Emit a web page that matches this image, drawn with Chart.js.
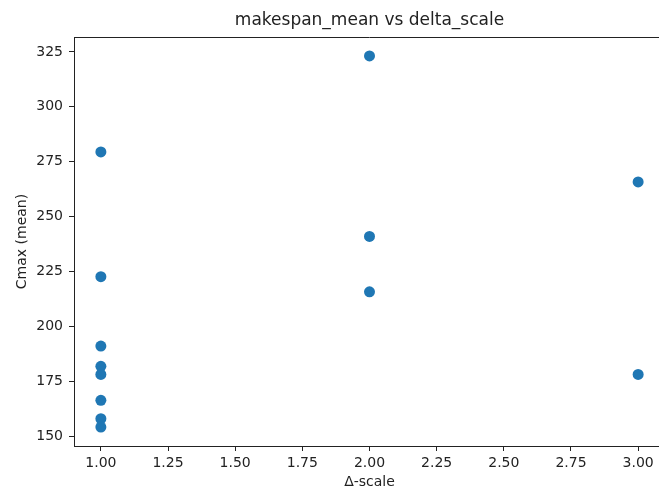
<!DOCTYPE html>
<html>
<head>
<meta charset="utf-8">
<script src="https://cdn.jsdelivr.net/npm/chart.js@4"></script>
<style>
  html, body { margin: 0; padding: 0; background: #fff; overflow: hidden; }
  #wrap { width: 659px; height: 488px; overflow: hidden; position: relative; }
  #scatterChart { position: absolute; left: 0; top: 0; }
</style>
</head>
<body>
<div id="wrap">
  <canvas id="scatterChart" width="680" height="488"></canvas>
</div>
<script>
// values
const deltaScale = [1, 1, 1, 1, 1, 1, 1, 1, 2, 2, 2, 3, 3];
const makespanMean = [279.5, 222.7, 191.1, 181.9, 178.2, 166.4, 158.0, 154.2, 323.2, 241.0, 215.8, 265.8, 178.2];
const xTicks = [1.0, 1.25, 1.5, 1.75, 2.0, 2.25, 2.5, 2.75, 3.0];
const yTicks = [150, 175, 200, 225, 250, 275, 300, 325];

const chartTitle = 'makespan_mean vs delta_scale';
const fontFamily = '"DejaVu Sans", sans-serif';
const textColor = '#222';

const points = deltaScale.map((x, i) => ({ x: x, y: makespanMean[i] }));

// top spine (right spine is cropped off in the reference) and title over the axes centre
const framePlugin = {
  id: 'frame',
  afterDraw(chart) {
    const { ctx, chartArea } = chart;
    ctx.save();
    ctx.strokeStyle = '#222';
    ctx.lineWidth = 1;
    ctx.beginPath();
    ctx.moveTo(chartArea.left, chartArea.top + 0.5);
    ctx.lineTo(chartArea.right, chartArea.top + 0.5);
    ctx.stroke();
    ctx.fillStyle = textColor;
    ctx.font = '17px ' + fontFamily;
    ctx.textAlign = 'center';
    ctx.textBaseline = 'middle';
    ctx.fillText(chartTitle, (chartArea.left + chartArea.right) / 2, 21);
    ctx.restore();
  }
};

const ctx = document.getElementById('scatterChart').getContext('2d');
const scatterChart = new Chart(ctx, {
  type: 'scatter',
  data: {
    datasets: [{
      data: points,
      backgroundColor: '#1f77b4',
      borderColor: '#1f77b4',
      borderWidth: 0,
      pointRadius: 5.5,
      pointHoverRadius: 5.5
    }]
  },
  options: {
    responsive: false,
    animation: false,
    devicePixelRatio: 1,
    layout: { padding: { top: 37, right: 15, left: 0, bottom: 0 } },
    plugins: {
      legend: { display: false },
      tooltip: { enabled: false },
      title: { display: false }
    },
    scales: {
      x: {
        type: 'linear',
        min: 0.9,
        max: 3.1,
        afterBuildTicks: s => { s.ticks = xTicks.map(v => ({ value: v })); },
        afterFit: s => { s.height = 42; },
        grid: { display: true, drawOnChartArea: false, drawTicks: true, tickLength: 5, color: '#222' },
        border: { display: true, color: '#222' },
        ticks: {
          padding: 4,
          color: textColor,
          font: { family: fontFamily, size: 14 },
          callback: v => Number(v).toFixed(2)
        },
        title: {
          display: true,
          text: 'Δ-scale',
          color: textColor,
          font: { family: fontFamily, size: 14, lineHeight: 1 },
          padding: { top: 0, bottom: -1 }
        }
      },
      y: {
        type: 'linear',
        min: 145.6,
        max: 331.8,
        afterBuildTicks: s => { s.ticks = yTicks.map(v => ({ value: v })); },
        afterFit: s => { s.width = 74; },
        grid: { display: true, drawOnChartArea: false, drawTicks: true, tickLength: 5, color: '#222' },
        border: { display: true, color: '#222' },
        ticks: {
          padding: 6,
          color: textColor,
          font: { family: fontFamily, size: 14 },
          callback: v => String(v)
        },
        title: {
          display: true,
          text: 'Cmax (mean)',
          color: textColor,
          font: { family: fontFamily, size: 14, lineHeight: 1.2 },
          padding: { top: 14, bottom: 0 }
        }
      }
    }
  },
  plugins: [framePlugin]
});
</script>
</body>
</html>
